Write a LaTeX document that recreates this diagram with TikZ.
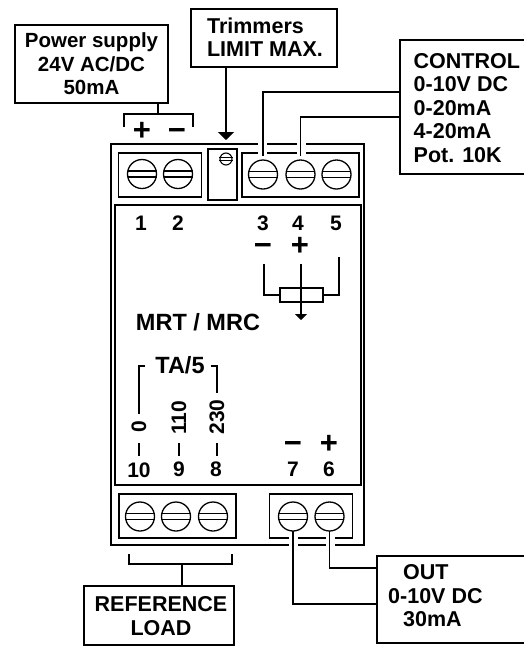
\documentclass[tikz,border=0pt]{standalone}
\usepackage{fontspec}
\setmainfont{Liberation Sans}
\usetikzlibrary{arrows.meta}
\tikzset{
  x=1pt,y=-1pt,
  wire/.style={draw=black,line width=1.5pt},
  thin wire/.style={draw=black,line width=1.2pt},
  frame/.style={draw=black,line width=1.5pt,fill=white,inner sep=0pt,outer sep=0pt},
  gapmark/.style={draw=none,fill=white},
  lbl/.style={font=\bfseries\fontsize{20.5}{23.5}\selectfont,inner sep=0pt,align=center,text=black},
  lblbig/.style={lbl,font=\bfseries\fontsize{21.5}{23.5}\selectfont},
  lblhuge/.style={lbl,font=\bfseries\fontsize{23.5}{25}\selectfont},
  num/.style={font=\bfseries\fontsize{21}{23}\selectfont,inner sep=0pt,text=black},
  sign/.style={font=\bfseries\fontsize{31}{31}\selectfont,inner sep=0pt,text=black},
  screwhead/.style={circle,draw=black,line width=1.3pt,minimum size=29pt,inner sep=0pt,outer sep=0pt},
  arrowtip/.style={-{Triangle[length=8pt,width=16pt]}},
  smalltip/.style={-{Triangle[length=6pt,width=12pt]}},
}
\newcommand{\screw}[3]{%
  \node[screwhead] (#1) at (#2,#3) {};
  \draw[line width=1.3pt] (#1.west |- 0,#3-3) -- (#1.east |- 0,#3-3);
  \draw[line width=1.3pt] (#1.west |- 0,#3+3) -- (#1.east |- 0,#3+3);
}
\begin{document}
\begin{tikzpicture}
\useasboundingbox (0,0) rectangle (523,646);
% housing
\node[frame,minimum width=253pt,minimum height=401pt,anchor=north west] (case) at (111,144) {};
\node[frame,minimum width=246pt,minimum height=280pt,anchor=north west] (panel) at (115,205) {};
\node[frame,minimum width=83pt,minimum height=44pt,anchor=north west] (blockA) at (118.5,153) {};
\node[frame,minimum width=29pt,minimum height=51pt,anchor=north west] (trim) at (208,149) {};
\node[frame,minimum width=117pt,minimum height=44pt,anchor=north west] (blockB) at (242,153) {};
\node[frame,minimum width=117pt,minimum height=44pt,anchor=north west] (blockC) at (119,494) {};
\node[frame,minimum width=83pt,minimum height=44pt,anchor=north west] (blockD) at (269.5,494) {};
% gaps in the case and terminal blocks where the wires pass
\fill[gapmark] (258.3,141) rectangle (267.3,155);
\fill[gapmark] (296.5,141) rectangle (305.5,155);
\fill[gapmark] (289,535) rectangle (298,547);
\fill[gapmark] (326,535) rectangle (334.5,547);
% screws
\screw{s1}{142}{174}\screw{s2}{178}{174}\screw{s3}{263}{174.5}\screw{s4}{300.5}{174.5}\screw{s5}{336.5}{174.5}
\screw{s10}{140}{516.5}\screw{s9}{176}{516.5}\screw{s8}{213}{516.5}\screw{s7}{293}{516.5}\screw{s6}{329.5}{516.5}
\node[circle,draw=black,line width=1.1pt,minimum size=12pt,inner sep=0pt] (tp) at (226,159) {};
\draw[line width=1.1pt] (tp.west |- 0,157.5) -- (tp.east |- 0,157.5);
\draw[line width=1.1pt] (tp.west |- 0,160.5) -- (tp.east |- 0,160.5);
% boxes
\node[frame,lbl,minimum width=153pt,minimum height=78pt] (power) at (91.5,64) {Power supply\\24V AC/DC\\50mA};
\node[frame,minimum width=146pt,minimum height=58pt] (trimmers) at (264,38) {};
\node[lblbig,align=left] (trimmerstext) at (265,37) {Trimmers\\LIMIT MAX.};
\node[frame,minimum width=126pt,minimum height=134pt,anchor=north west] (control) at (400,40) {};
\node[lblbig,align=left,anchor=west] (controltext) at (413.5,108) {CONTROL\\0-10V DC\\0-20mA\\4-20mA\\Pot. 10K};
\node[frame,minimum width=149pt,minimum height=87pt,anchor=north west] (out) at (377,556) {};
\node[lblbig,align=left,anchor=west] (outtext) at (388,596) {\hspace*{15pt}OUT\\0-10V DC\\\hspace*{15pt}30mA};
\node[frame,minimum width=150pt,minimum height=59pt,anchor=north west] (ref) at (84,586) {};
\node[lblbig] (reftext) at (161,616) {REFERENCE\\LOAD};
% power bracket
\coordinate (pb) at (158,114);
\draw[wire] (power.south -| pb) -- (pb);
\draw[wire] (124,127) -- (124,114) -- (193,114) -- (193,127);
\node[sign] (plusA) at (142,131) {+};
\node[sign] (minusA) at (177,134) {−};
% trimmer arrow
\coordinate (tt) at (226,140);
\draw[wire,arrowtip] (trimmers.south -| tp) -- (tt);
% control wires
\draw[wire,shorten >=4pt] (control.west |- 0,92) -| (s3.north);
\draw[wire,shorten >=4pt] (control.west |- 0,117) -| (s4.north);
% out wires
\draw[wire] (out.west |- 0,604) -| (s7.south);
\draw[wire] (out.west |- 0,568) -| (s6.south);
% reference bracket
\draw[wire] (129,554) -- (129,564) -- (232,564) -- (232,554);
\coordinate (rb) at (182,564);
\draw[wire] (rb) -- (ref.north -| rb);
% numbers
\node[num] (n1) at (141,223) {1};
\node[num] (n2) at (178,223) {2};
\node[num] (n3) at (263,223) {3};
\node[num] (n4) at (298,223) {4};
\node[num] (n5) at (336,223) {5};
\node[sign] (minusB) at (263,249) {−};
\node[sign] (plusB) at (300,246) {+};
% potentiometer
\node[draw=black,line width=1.2pt,minimum width=43pt,minimum height=14pt,inner sep=0pt,outer sep=0pt] (pot) at (301.5,295) {};
\draw[thin wire] (264,264) |- (pot.west);
\draw[thin wire] (339,257) |- (pot.east);
\draw[thin wire,smalltip] (301,264) -- (301,320);
\node[lblhuge] (mrt) at (198,322) {MRT / MRC};
% TA/5
\node[lblhuge] (ta) at (180,365) {TA/5};
\draw[thin wire] (145,366) -- (139,366) -- (139,414);
\draw[thin wire] (211,366) -- (217,366) -- (217,393);
\node[num,rotate=90] (r0) at (139,427) {0};
\node[num,rotate=90] (r110) at (179,418) {110};
\node[num,rotate=90] (r230) at (217,417) {230};
\draw[thin wire] (139,443) -- (139,456);
\draw[thin wire] (179,443) -- (179,456);
\draw[thin wire] (217,443) -- (217,456);
\node[num] (n10) at (139,470) {10};
\node[num] (n9) at (179,469) {9};
\node[num] (n8) at (216,469) {8};
\node[num] (n7) at (293,469) {7};
\node[num] (n6) at (329,469) {6};
\node[sign] (minusC) at (293,447) {−};
\node[sign] (plusC) at (329,444) {+};
\end{tikzpicture}
\end{document}
